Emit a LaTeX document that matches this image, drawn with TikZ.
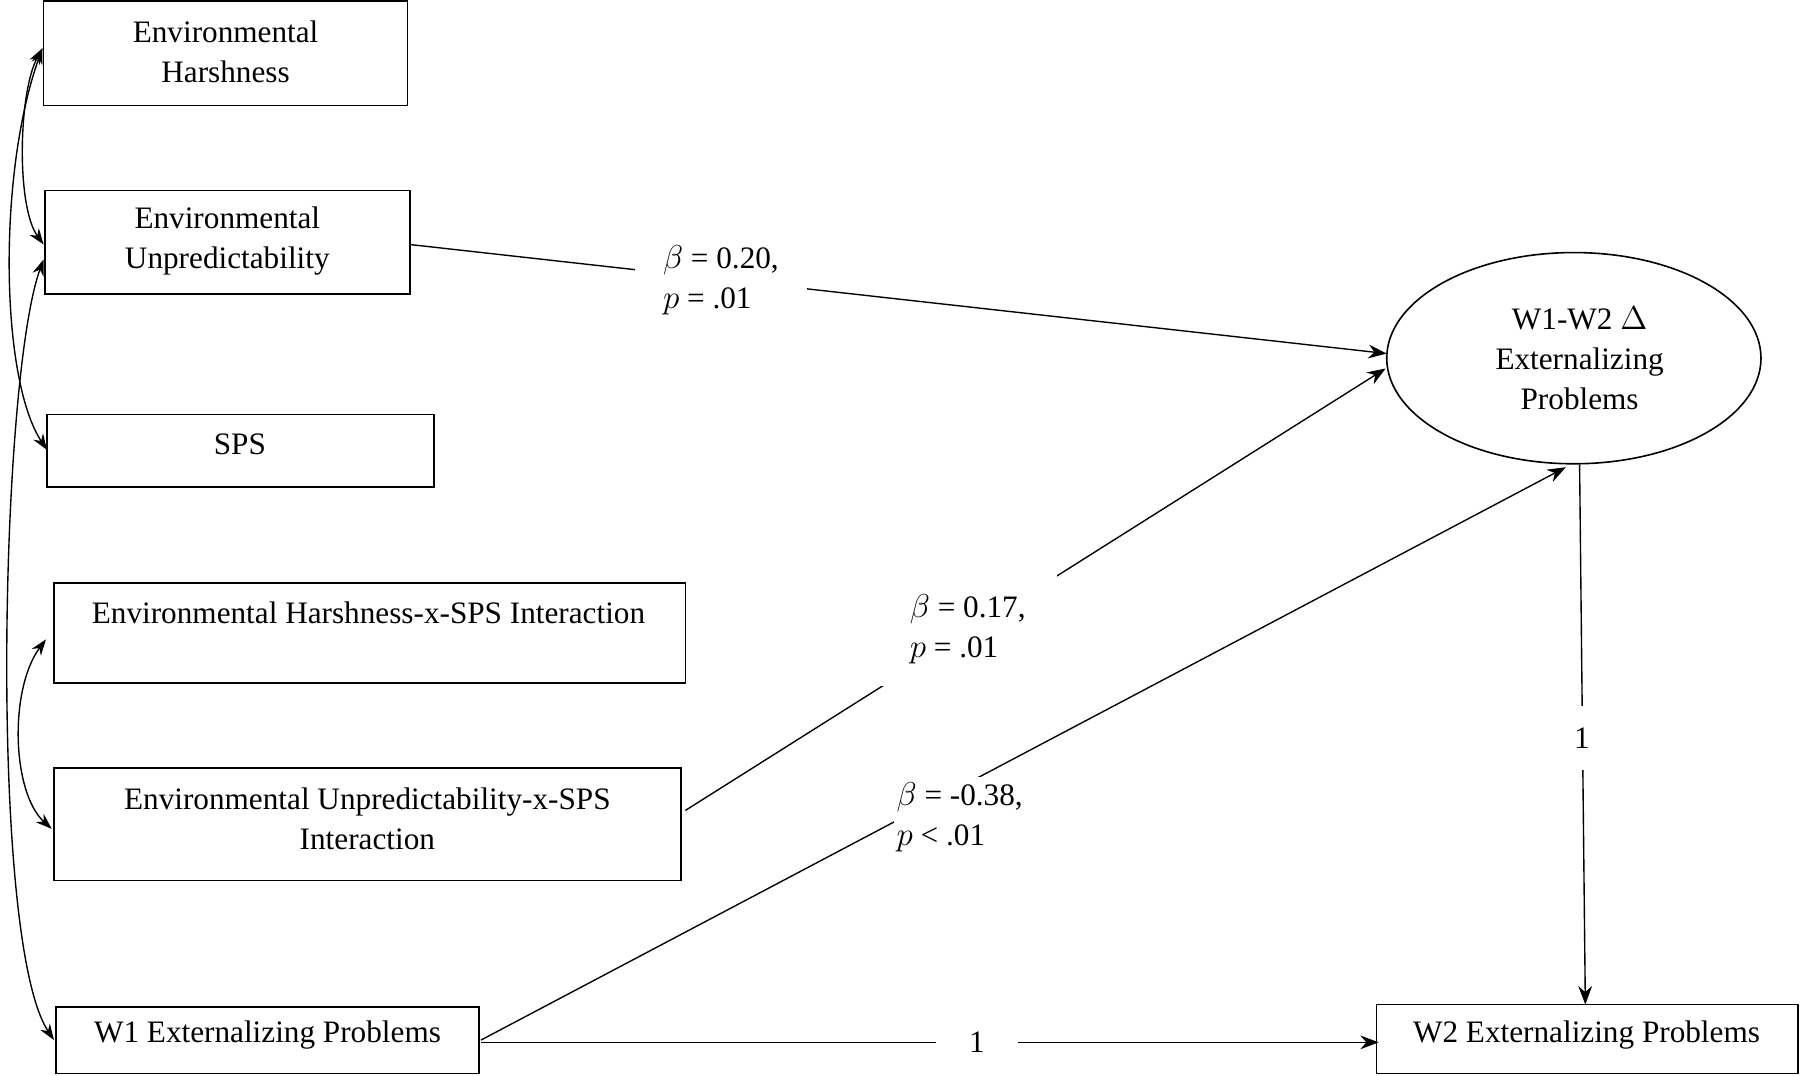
\documentclass[tikz,border=0pt]{standalone}
\usepackage{fontspec}
\setmainfont{Liberation Serif}
\usetikzlibrary{arrows.meta}
\begin{document}
\begin{tikzpicture}[x=0.5pt,y=-0.5pt,
  txt/.style={font=\fontsize{13.6}{17.5}\selectfont,align=center,inner sep=0},
  lab/.style={font=\fontsize{13.6}{17.5}\selectfont,align=left,fill=white,inner sep=1pt},
  arr/.style={-{Stealth[length=8pt,width=6pt]},line width=0.6pt},
  darr/.style={{Stealth[length=7pt,width=5pt]}-{Stealth[length=7pt,width=5pt]},line width=0.6pt}]
\useasboundingbox (0,0) rectangle (1568,937);
\draw[line width=0.7pt] (38,1) rectangle (355,92);
\node[txt] (eh) at (196.5,45) {Environmental\\Harshness};
\draw[line width=0.7pt] (39,166) rectangle (357,256);
\node[txt] (eu) at (198,210) {Environmental\\Unpredictability};
\draw[line width=0.7pt] (41,361) rectangle (378,424);
\node[txt] (sps) at (209,387) {SPS};
\draw[line width=0.7pt] (47,508) rectangle (597,595);
\node[txt] (ehx) at (321,534) {Environmental Harshness-x-SPS Interaction};
\draw[line width=0.7pt] (47,669) rectangle (593,767);
\node[txt] (eux) at (320,713) {Environmental Unpredictability-x-SPS\\Interaction};
\draw[line width=0.7pt] (49,877) rectangle (417,935);
\node[txt] (w1) at (233,902) {W1 Externalizing Problems};
\draw[line width=0.7pt] (1199,875) rectangle (1566,935);
\node[txt] (w2) at (1382,902) {W2 Externalizing Problems};
\draw[line width=0.7pt] (1371,312) ellipse [x radius=163, y radius=92];
\node[txt] (d) at (1376,312) {W1-W2 $\Delta$\\Externalizing\\Problems};
\coordinate (ehL) at (37,42);
\coordinate (euL1) at (38,213);
\coordinate (euL2) at (38,226);
\coordinate (spsL) at (41,392);
\coordinate (w1L) at (47,906);
\coordinate (ehxL) at (40,557);
\coordinate (euxL) at (45,722);
\draw[darr] (ehL) .. controls (16,80) and (14,180) .. (euL1);
\draw[darr] (ehL) .. controls (-2,150) and (0,330) .. (spsL);
\draw[darr] (euL2) .. controls (0,330) and (-10,820) .. (w1L);
\draw[darr] (ehxL) .. controls (8,600) and (10,690) .. (euxL);
\coordinate (a1) at (357,213); \coordinate (e1) at (1208,308);
\coordinate (a2) at (597,706); \coordinate (e2) at (1207,321);
\coordinate (a3) at (419,906); \coordinate (e3) at (1364,407);
\coordinate (e4) at (1376,405); \coordinate (b4) at (1381,875);
\coordinate (a5) at (419,908); \coordinate (b5) at (1201,908);
\draw[arr] (a1) -- (e1);
\draw[arr] (a2) -- (e2);
\draw[arr] (a3) -- (e3);
\draw[arr] (e4) -- (b4);
\draw[arr] (a5) -- (b5);
\node[lab,minimum width=75pt,minimum height=35pt] (l1) at (628,244) {$\beta$ = 0.20,\\$p$ = .01};
\node[lab,minimum width=78pt,minimum height=50pt] (l2) at (843,548) {$\beta$ = 0.17,\\$p$ = .01};
\node[lab,minimum width=55pt,minimum height=35pt] (l3) at (836,712) {$\beta$ = -0.38,\\$p$ < .01};
\node[lab,minimum height=28pt] (l4) at (1378,643) {1};
\node[lab,minimum width=36pt] (l5) at (851,908) {1};
\end{tikzpicture}
\end{document}
